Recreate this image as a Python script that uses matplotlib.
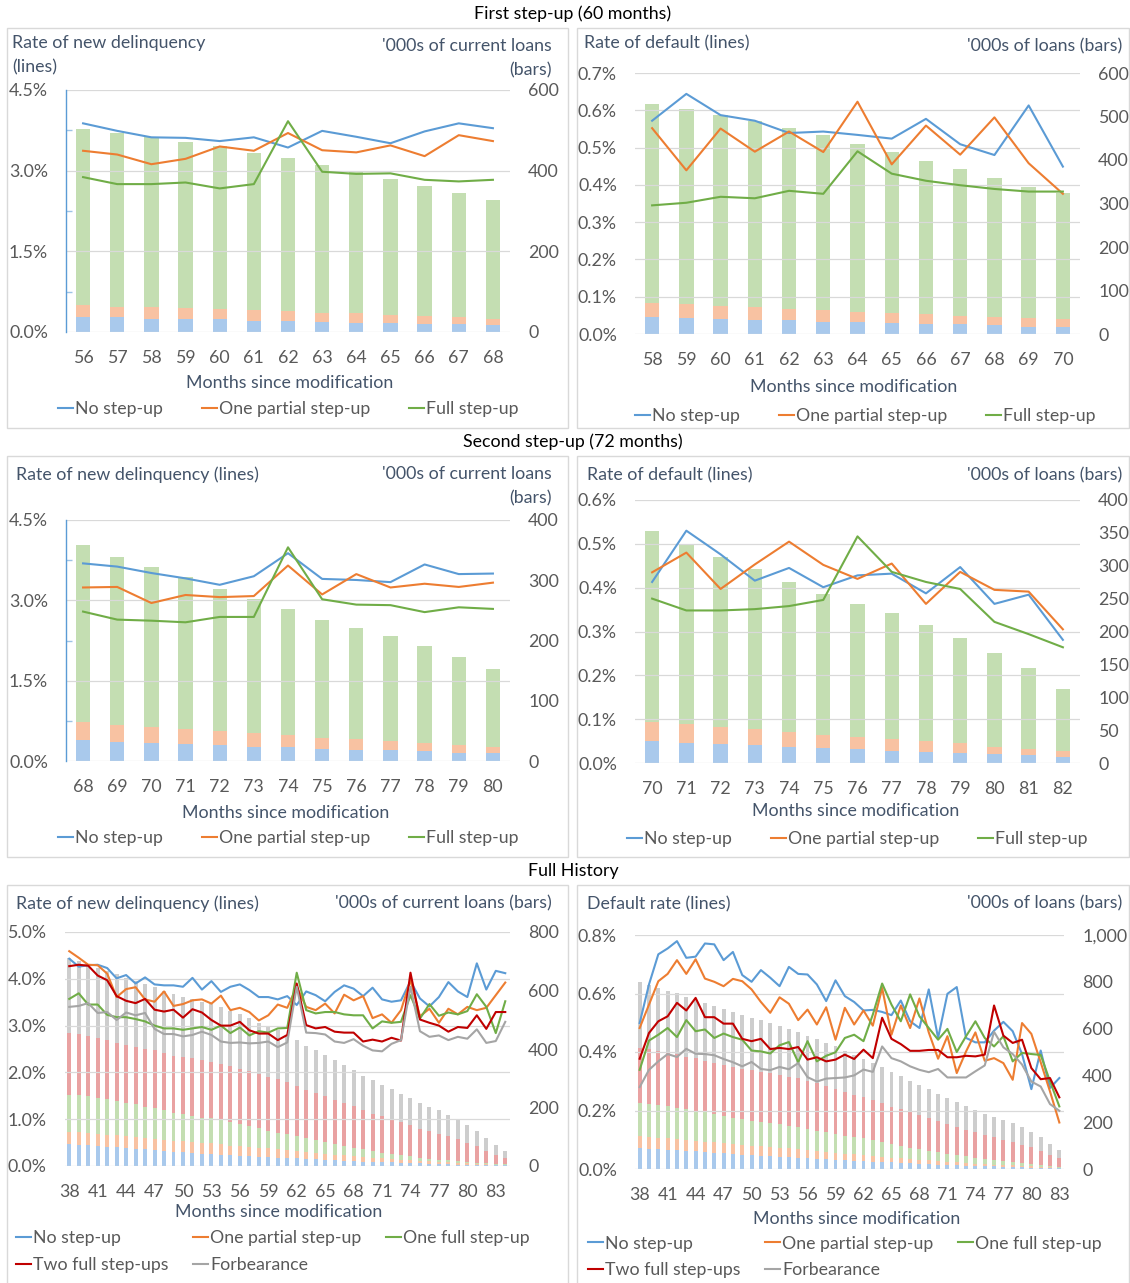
import numpy as np
import matplotlib.pyplot as plt
from matplotlib.lines import Line2D
from matplotlib.patches import Rectangle
from matplotlib.ticker import FuncFormatter

plt.rcParams['font.family'] = ['Lato', 'DejaVu Sans']
FS = 12.8
plt.rcParams['font.size'] = FS

W, H = 1130, 1283

# Series colours (lines) and lighter fills (bars)
C_NONE, C_PART, C_FULL, C_TWO, C_FORB = '#5B9BD5', '#ED7D31', '#70AD47', '#C00000', '#A5A5A5'
B_NONE, B_PART, B_FULL, B_TWO, B_FORB = '#A9C9EC', '#F8C2A2', '#C4DEB2', '#E9A2A2', '#CDCDCD'
TITLE_C = '#44546A'
TICK_C = '#595959'
GRID_C = '#D9D9D9'

# ---- First step-up (60 months): new delinquency ----
fs_dq_months = list(range(56, 69))
fs_dq_none = [3.88, 3.74, 3.62, 3.61, 3.55, 3.62, 3.43, 3.74, 3.63, 3.51, 3.73, 3.88, 3.79]
fs_dq_part = [3.37, 3.30, 3.12, 3.22, 3.45, 3.37, 3.70, 3.38, 3.34, 3.47, 3.27, 3.66, 3.55]
fs_dq_full = [2.88, 2.75, 2.75, 2.78, 2.67, 2.75, 3.92, 2.98, 2.94, 2.95, 2.83, 2.80, 2.83]
fs_dq_loans_none = [38, 36, 33, 31, 31, 28, 27, 26, 23, 22, 21, 20, 17]
fs_dq_loans_part = [29, 27, 29, 28, 25, 26, 24, 22, 23, 20, 18, 16, 16]
fs_dq_loans_full = [437, 430, 421, 412, 404, 391, 381, 365, 352, 337, 322, 309, 294]

# ---- First step-up (60 months): default ----
fs_df_months = list(range(58, 71))
fs_df_none = [0.572, 0.644, 0.587, 0.572, 0.539, 0.543, 0.534, 0.524, 0.577, 0.509, 0.480, 0.613, 0.449]
fs_df_part = [0.552, 0.439, 0.551, 0.489, 0.543, 0.488, 0.623, 0.455, 0.559, 0.481, 0.581, 0.458, 0.376]
fs_df_full = [0.345, 0.352, 0.368, 0.364, 0.384, 0.376, 0.490, 0.430, 0.411, 0.399, 0.389, 0.382, 0.382]
fs_df_loans_none = [38, 37, 34, 32, 32, 28, 28, 25, 23, 22, 20, 17, 17]
fs_df_loans_part = [33, 31, 31, 29, 26, 27, 23, 23, 23, 20, 19, 19, 17]
fs_df_loans_full = [458, 450, 438, 429, 415, 402, 386, 370, 352, 337, 320, 302, 290]

# ---- Second step-up (72 months): new delinquency ----
ss_dq_months = list(range(68, 81))
ss_dq_none = [3.69, 3.63, 3.51, 3.41, 3.29, 3.45, 3.88, 3.40, 3.38, 3.34, 3.67, 3.49, 3.50]
ss_dq_part = [3.24, 3.25, 2.95, 3.10, 3.06, 3.08, 3.65, 3.11, 3.49, 3.24, 3.31, 3.25, 3.33]
ss_dq_full = [2.79, 2.64, 2.62, 2.59, 2.69, 2.69, 3.99, 3.02, 2.92, 2.91, 2.78, 2.87, 2.84]
ss_dq_loans_none = [35, 32, 30, 28, 26, 24, 23, 20, 19, 18, 16, 14, 13]
ss_dq_loans_part = [30, 28, 27, 25, 24, 22, 20, 19, 17, 15, 14, 13, 11]
ss_dq_loans_full = [293, 278, 265, 252, 236, 223, 210, 195, 184, 174, 161, 146, 129]

# ---- Second step-up (72 months): default ----
ss_df_months = list(range(70, 83))
ss_df_none = [0.413, 0.530, 0.476, 0.416, 0.445, 0.401, 0.428, 0.432, 0.387, 0.447, 0.363, 0.384, 0.281]
ss_df_part = [0.435, 0.480, 0.397, 0.453, 0.505, 0.452, 0.420, 0.455, 0.363, 0.436, 0.395, 0.391, 0.305]
ss_df_full = [0.375, 0.348, 0.348, 0.351, 0.358, 0.372, 0.517, 0.436, 0.413, 0.397, 0.322, 0.294, 0.264]
ss_df_loans_none = [33, 31, 29, 27, 24, 23, 21, 19, 17, 15, 13, 12, 9]
ss_df_loans_part = [30, 28, 26, 25, 23, 20, 18, 17, 16, 15, 12, 10, 9]
ss_df_loans_full = [290, 272, 258, 243, 228, 214, 203, 192, 177, 160, 143, 123, 95]

# ---- Full history: new delinquency (months 38-84) ----
fh_dq_months = list(range(38, 85))
fh_dq_none = [4.43, 4.26, 4.29, 4.30, 4.23, 4.01, 4.08, 3.90, 4.03, 3.88, 3.86, 3.86, 3.83, 4.02,
              3.77, 3.95, 3.72, 3.83, 3.88, 3.76, 3.61, 3.61, 3.56, 3.63, 3.44, 3.73, 3.65, 3.52,
              3.72, 3.86, 3.79, 3.63, 3.81, 3.56, 3.51, 3.54, 3.95, 3.58, 3.41, 3.61, 3.93, 3.73,
              3.61, 4.33, 3.77, 4.17, 4.12]
fh_dq_part = [4.59, 4.45, 4.30, 4.29, 4.11, 3.61, 3.78, 3.82, 3.56, 3.51, 3.73, 3.42, 3.46, 3.54,
              3.56, 3.47, 3.64, 3.33, 3.38, 3.29, 3.11, 3.22, 3.45, 3.38, 3.83, 3.40, 3.33, 3.47,
              3.26, 3.66, 3.54, 3.63, 3.16, 3.24, 3.06, 3.33, 3.97, 3.20, 3.36, 3.06, 3.36, 3.24,
              3.40, 3.33, 3.38, 3.65, 3.92]
fh_dq_full = [3.57, 3.69, 3.45, 3.45, 3.23, 3.18, 3.18, 3.14, 3.09, 3.00, 2.94, 2.94, 2.91, 2.94,
              2.97, 2.91, 3.00, 2.84, 2.96, 2.79, 2.88, 2.85, 2.94, 2.95, 4.13, 3.33, 3.26, 3.29,
              3.29, 3.24, 3.22, 3.22, 2.94, 3.09, 3.06, 3.08, 3.65, 3.15, 3.46, 3.21, 3.28, 3.24,
              3.31, 3.67, 3.40, 2.84, 3.52]
fh_dq_two = [4.27, 4.30, 4.28, 4.07, 3.97, 3.63, 3.53, 3.48, 3.57, 3.34, 3.30, 3.34, 3.17, 3.35,
             3.28, 3.12, 3.00, 3.00, 3.08, 2.90, 2.83, 2.83, 2.69, 2.80, 3.90, 3.01, 2.94, 2.97,
             2.87, 2.85, 2.85, 2.66, 2.70, 2.66, 2.74, 2.68, 4.13, 3.13, 3.06, 3.00, 2.87, 2.97,
             2.95, 3.22, 2.93, 3.29, 3.29]
fh_dq_forb = [3.40, 3.42, 3.48, 3.27, 3.29, 3.12, 3.28, 3.22, 3.27, 2.93, 2.82, 2.82, 2.77, 2.80,
              2.87, 2.80, 2.66, 2.63, 2.64, 2.62, 2.63, 2.66, 2.54, 2.64, 3.83, 2.85, 2.84, 2.81,
              2.66, 2.63, 2.71, 2.57, 2.47, 2.45, 2.61, 2.69, 3.83, 2.88, 2.76, 2.79, 2.69, 2.76,
              2.72, 2.92, 2.63, 2.67, 3.08]
fh_dq_loans_none = [74, 73, 72, 68, 66, 65, 62, 59, 57, 55, 51, 48, 47, 44, 42, 41, 39, 36, 35, 33,
                    31, 30, 28, 27, 26, 25, 24, 22, 20, 18, 16, 15, 14, 13, 12, 11, 10, 9, 8, 7,
                    6, 5, 4, 4, 3, 3, 2]
fh_dq_loans_part = [43, 42, 41, 42, 41, 40, 40, 40, 39, 39, 39, 39, 38, 38, 37, 36, 35, 34, 33, 32,
                    32, 30, 29, 27, 25, 23, 21, 20, 19, 18, 17, 16, 14, 13, 12, 11, 10, 9, 8, 7,
                    6, 6, 5, 4, 3, 2, 2]
fh_dq_loans_full = [127, 127, 125, 123, 123, 118, 114, 112, 107, 105, 102, 95, 93, 90, 86, 86, 82,
                    79, 74, 71, 67, 61, 57, 54, 50, 48, 43, 40, 37, 32, 29, 26, 23, 20, 17, 14,
                    13, 10, 9, 8, 7, 5, 5, 3, 3, 2, 2]
fh_dq_loans_two = [211, 208, 206, 204, 200, 199, 198, 197, 197, 196, 194, 195, 193, 197, 198, 194,
                   194, 194, 191, 188, 186, 183, 183, 178, 173, 164, 162, 157, 151, 147, 142, 134,
                   128, 125, 119, 113, 106, 100, 95, 89, 82, 75, 66, 57, 42, 32, 20]
fh_dq_loans_forb = [255, 250, 246, 240, 236, 233, 229, 225, 221, 217, 213, 211, 208, 201, 197, 196,
                    193, 186, 185, 181, 174, 175, 168, 161, 157, 151, 147, 142, 136, 130, 123, 118,
                    115, 107, 102, 98, 93, 87, 82, 79, 74, 67, 60, 52, 45, 33, 26]

# ---- Full history: default (months 38-83) ----
fh_df_months = list(range(38, 84))
fh_df_none = [0.499, 0.631, 0.734, 0.754, 0.779, 0.722, 0.726, 0.771, 0.768, 0.714, 0.742, 0.663,
              0.640, 0.680, 0.654, 0.625, 0.691, 0.667, 0.665, 0.631, 0.574, 0.645, 0.591, 0.571,
              0.542, 0.544, 0.537, 0.526, 0.576, 0.505, 0.482, 0.614, 0.448, 0.599, 0.622, 0.448,
              0.433, 0.433, 0.473, 0.503, 0.471, 0.393, 0.273, 0.405, 0.277, 0.311]
fh_df_part = [0.482, 0.562, 0.642, 0.667, 0.714, 0.667, 0.717, 0.651, 0.640, 0.625, 0.650, 0.642,
              0.614, 0.571, 0.534, 0.587, 0.565, 0.509, 0.545, 0.494, 0.553, 0.442, 0.551, 0.494,
              0.542, 0.490, 0.619, 0.459, 0.559, 0.482, 0.583, 0.467, 0.377, 0.454, 0.328, 0.402,
              0.467, 0.370, 0.379, 0.362, 0.305, 0.499, 0.462, 0.365, 0.265, 0.159]
fh_df_full = [0.339, 0.439, 0.459, 0.482, 0.451, 0.509, 0.471, 0.477, 0.448, 0.463, 0.451, 0.442,
              0.405, 0.402, 0.395, 0.423, 0.434, 0.365, 0.437, 0.368, 0.387, 0.399, 0.448, 0.459,
              0.437, 0.528, 0.634, 0.562, 0.505, 0.597, 0.522, 0.482, 0.442, 0.479, 0.400, 0.454,
              0.505, 0.448, 0.419, 0.454, 0.368, 0.397, 0.393, 0.390, 0.300, 0.214]
fh_df_two = [0.377, 0.465, 0.505, 0.522, 0.568, 0.542, 0.585, 0.519, 0.519, 0.497, 0.497, 0.445,
             0.437, 0.445, 0.410, 0.414, 0.410, 0.417, 0.374, 0.382, 0.368, 0.374, 0.391, 0.376,
             0.408, 0.379, 0.517, 0.445, 0.427, 0.404, 0.404, 0.407, 0.407, 0.382, 0.382, 0.387,
             0.385, 0.391, 0.559, 0.456, 0.431, 0.442, 0.345, 0.307, 0.311, 0.245]
fh_df_forb = [0.280, 0.339, 0.368, 0.393, 0.383, 0.411, 0.394, 0.393, 0.389, 0.376, 0.365, 0.351,
              0.366, 0.342, 0.338, 0.349, 0.341, 0.362, 0.314, 0.299, 0.309, 0.311, 0.313, 0.320,
              0.340, 0.332, 0.419, 0.379, 0.368, 0.351, 0.339, 0.331, 0.342, 0.313, 0.313, 0.313,
              0.334, 0.354, 0.469, 0.416, 0.393, 0.357, 0.299, 0.282, 0.222, 0.199]
fh_df_loans_none = [88, 87, 84, 83, 81, 78, 75, 73, 70, 67, 63, 61, 60, 57, 54, 53, 50, 47, 46, 44,
                    43, 40, 38, 36, 34, 32, 30, 28, 26, 24, 22, 20, 18, 17, 15, 14, 13, 12, 11, 10,
                    9, 8, 6, 5, 4, 3]
fh_df_loans_part = [53, 51, 50, 48, 47, 46, 46, 44, 44, 43, 44, 42, 40, 40, 40, 38, 38, 37, 34, 33,
                    30, 28, 27, 26, 25, 24, 22, 21, 20, 19, 18, 17, 16, 14, 13, 12, 10, 9, 8, 7,
                    6, 5, 5, 4, 3, 2]
fh_df_loans_full = [140, 140, 140, 138, 134, 132, 128, 125, 121, 116, 112, 111, 107, 105, 101, 100,
                    96, 94, 91, 87, 84, 82, 77, 73, 72, 68, 62, 58, 54, 48, 45, 41, 37, 35, 32, 28,
                    25, 22, 19, 17, 13, 11, 9, 7, 4, 2]
fh_df_loans_two = [235, 235, 230, 228, 228, 224, 224, 220, 219, 218, 215, 213, 216, 214, 214, 211,
                   211, 209, 205, 204, 198, 192, 187, 182, 175, 172, 168, 160, 156, 153, 145, 139,
                   132, 125, 118, 113, 108, 101, 97, 91, 87, 80, 72, 62, 50, 40]
fh_df_loans_forb = [282, 273, 271, 265, 261, 256, 249, 246, 243, 239, 236, 229, 222, 220, 217, 210,
                    203, 197, 194, 187, 185, 184, 176, 171, 164, 156, 152, 149, 141, 133, 129, 123,
                    117, 111, 107, 102, 95, 91, 87, 84, 80, 74, 65, 57, 44, 34]

fig = plt.figure(figsize=(W / 100, H / 100), dpi=100)


def fx(x):
    return x / W


def fy(y):
    return 1 - y / H


def add_text(x, y, s, ha='left', color=TITLE_C, size=FS):
    fig.text(fx(x), fy(y), s, ha=ha, va='center', color=color, fontsize=size)


def draw_panel(box, months, bars, lines, left, right, xstep=1, blue_spine=False):
    x0, y0, x1, y1 = box
    ax = fig.add_axes([fx(x0), fy(y1), (x1 - x0) / W, (y1 - y0) / H])
    axr = ax.twinx()
    ax.set_zorder(axr.get_zorder() + 1)
    ax.patch.set_visible(False)

    # stacked loan counts on the secondary axis
    base = np.zeros(len(months))
    for vals, col in bars:
        axr.bar(months, vals, width=0.42, bottom=base, color=col, linewidth=0)
        base = base + np.array(vals)

    # rates on the primary axis
    for vals, col in lines:
        ax.plot(months, vals, color=col, lw=1.5, solid_joinstyle='round', zorder=3)

    lmax, lstep, ldec = left
    ax.set_ylim(0, lmax)
    ax.set_yticks(np.linspace(0, lmax, int(round(lmax / lstep)) + 1))
    ax.yaxis.set_major_formatter(FuncFormatter(lambda v, p: f'{v:.{ldec}f}%'))
    rmax, rstep = right
    axr.set_ylim(0, rmax)
    axr.set_yticks(np.linspace(0, rmax, int(round(rmax / rstep)) + 1))
    axr.yaxis.set_major_formatter(FuncFormatter(lambda v, p: f'{v:,.0f}'))

    ax.set_xlim(months[0] - 0.5, months[-1] + 0.5)
    ax.set_xticks(months[::xstep])
    ax.grid(axis='y', color=GRID_C, lw=0.9)
    ax.set_axisbelow(True)

    for a in (ax, axr):
        for sp in a.spines.values():
            sp.set_visible(False)
    ax.tick_params(axis='x', length=0, pad=13, labelcolor=TICK_C, labelsize=FS)
    ax.tick_params(axis='y', length=0, pad=13, labelcolor=TICK_C, labelsize=FS)
    axr.tick_params(axis='y', length=0, pad=13, labelcolor=TICK_C, labelsize=FS)

    if blue_spine:
        ax.spines['left'].set_visible(True)
        ax.spines['left'].set_color(C_NONE)
        ax.spines['left'].set_linewidth(1)
        ax.set_yticks(np.arange(lstep / 2, lmax, lstep), minor=True)
        ax.tick_params(axis='y', which='minor', direction='in', length=4, width=1, color='#9DC3E6')
    return ax


def add_legend(x, y, items, ncol=3, colsp=2.2):
    handles = [Line2D([], [], color=c, lw=1.5) for _, c in items]
    fig.legend(handles, [t for t, _ in items], loc='center left',
               bbox_to_anchor=(fx(x), fy(y)), ncol=ncol, frameon=False,
               borderpad=0, borderaxespad=0, handlelength=0.85, handletextpad=0.1,
               columnspacing=colsp, labelspacing=0.6, labelcolor=TICK_C, fontsize=FS)


def add_frame(x0, y0, x1, y1):
    fig.add_artist(Rectangle((fx(x0), fy(y1)), (x1 - x0) / W, (y1 - y0) / H,
                             transform=fig.transFigure, fill=False,
                             edgecolor=GRID_C, lw=1))


three = [('No step-up', C_NONE), ('One partial step-up', C_PART), ('Full step-up', C_FULL)]
five = [('No step-up', C_NONE), ('Two full step-ups', C_TWO),
        ('One partial step-up', C_PART), ('Forbearance', C_FORB),
        ('One full step-up', C_FULL)]

for fr in [(7, 28, 568, 428), (577, 28, 1129, 428), (7, 456, 568, 857),
           (577, 456, 1129, 857), (7, 885, 568, 1295), (577, 885, 1129, 1295)]:
    add_frame(*fr)

add_text(573, 14, 'First step-up (60 months)', ha='center', color='black')
add_text(573, 442, 'Second step-up (72 months)', ha='center', color='black')
add_text(573, 871, 'Full History', ha='center', color='black')

# First step-up: new delinquency
draw_panel((66, 90, 510, 332), fs_dq_months,
           [(fs_dq_loans_none, B_NONE), (fs_dq_loans_part, B_PART), (fs_dq_loans_full, B_FULL)],
           [(fs_dq_none, C_NONE), (fs_dq_part, C_PART), (fs_dq_full, C_FULL)],
           (4.5, 1.5, 1), (600, 200), blue_spine=True)
add_text(12, 43, 'Rate of new delinquency')
add_text(12, 67, '(lines)')
add_text(552, 46, "'000s of current loans", ha='right')
add_text(552, 70, '(bars)', ha='right')
add_text(290, 383, 'Months since modification', ha='center')
add_legend(58, 409, three)

# First step-up: default
draw_panel((635, 73, 1080, 334), fs_df_months,
           [(fs_df_loans_none, B_NONE), (fs_df_loans_part, B_PART), (fs_df_loans_full, B_FULL)],
           [(fs_df_none, C_NONE), (fs_df_part, C_PART), (fs_df_full, C_FULL)],
           (0.7, 0.1, 1), (600, 100))
add_text(584, 43, 'Rate of default (lines)')
add_text(1122, 46, "'000s of loans (bars)", ha='right')
add_text(854, 387, 'Months since modification', ha='center')
add_legend(635, 416, three)

# Second step-up: new delinquency
draw_panel((66, 520, 510, 761), ss_dq_months,
           [(ss_dq_loans_none, B_NONE), (ss_dq_loans_part, B_PART), (ss_dq_loans_full, B_FULL)],
           [(ss_dq_none, C_NONE), (ss_dq_part, C_PART), (ss_dq_full, C_FULL)],
           (4.5, 1.5, 1), (400, 100), blue_spine=True)
add_text(16, 475, 'Rate of new delinquency (lines)')
add_text(552, 474, "'000s of current loans", ha='right')
add_text(552, 498, '(bars)', ha='right')
add_text(286, 813, 'Months since modification', ha='center')
add_legend(58, 838, three)

# Second step-up: default
draw_panel((635, 500, 1080, 763), ss_df_months,
           [(ss_df_loans_none, B_NONE), (ss_df_loans_part, B_PART), (ss_df_loans_full, B_FULL)],
           [(ss_df_none, C_NONE), (ss_df_part, C_PART), (ss_df_full, C_FULL)],
           (0.6, 0.1, 1), (400, 50))
add_text(587, 475, 'Rate of default (lines)')
add_text(1122, 475, "'000s of loans (bars)", ha='right')
add_text(856, 811, 'Months since modification', ha='center')
add_legend(627, 839, three)

# Full history: new delinquency
draw_panel((64.5, 932, 510, 1166), fh_dq_months,
           [(fh_dq_loans_none, B_NONE), (fh_dq_loans_part, B_PART), (fh_dq_loans_full, B_FULL),
            (fh_dq_loans_two, B_TWO), (fh_dq_loans_forb, B_FORB)],
           [(fh_dq_none, C_NONE), (fh_dq_part, C_PART), (fh_dq_full, C_FULL),
            (fh_dq_two, C_TWO), (fh_dq_forb, C_FORB)],
           (5.0, 1.0, 1), (800, 200), xstep=3)
add_text(16, 904, 'Rate of new delinquency (lines)')
add_text(552, 903, "'000s of current loans (bars)", ha='right')
add_text(279, 1212, 'Months since modification', ha='center')
add_legend(16, 1251.5, five, colsp=1.4)

# Full history: default
draw_panel((635, 935, 1064, 1169), fh_df_months,
           [(fh_df_loans_none, B_NONE), (fh_df_loans_part, B_PART), (fh_df_loans_full, B_FULL),
            (fh_df_loans_two, B_TWO), (fh_df_loans_forb, B_FORB)],
           [(fh_df_none, C_NONE), (fh_df_part, C_PART), (fh_df_full, C_FULL),
            (fh_df_two, C_TWO), (fh_df_forb, C_FORB)],
           (0.8, 0.2, 1), (1000, 200), xstep=3)
add_text(587, 904, 'Default rate (lines)')
add_text(1122, 903, "'000s of loans (bars)", ha='right')
add_text(857, 1219, 'Months since modification', ha='center')
add_legend(588, 1257, five, colsp=1.4)

fig.savefig('out.png', dpi=100)
